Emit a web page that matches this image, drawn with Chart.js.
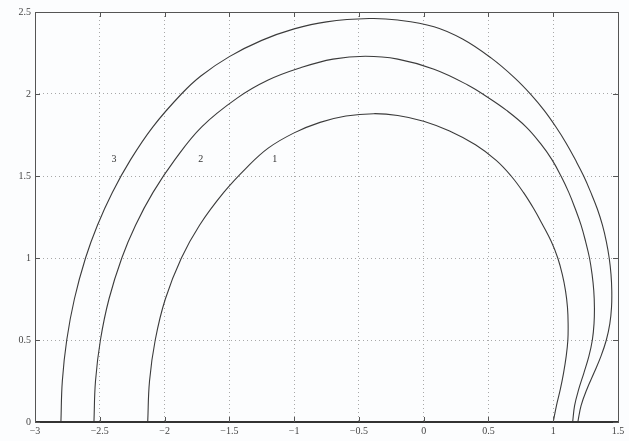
<!DOCTYPE html>
<html>
<head>
<meta charset="utf-8">
<script src="https://cdn.jsdelivr.net/npm/chart.js@4.4.1/dist/chart.umd.min.js"></script>
<style>
  html, body { margin: 0; padding: 0; background: #fcfdfe; }
  canvas { display: block; }
</style>
</head>
<body>
<canvas id="c" width="629" height="441"></canvas>
<script>
// Curve 1 (inner)
const curve1X = [-2.130, -2.116, -2.072, -1.994, -1.870, -1.730, -1.543, -1.368, -1.2, -1.0, -0.8, -0.6, -0.385, -0.2, 0.0, 0.2, 0.4, 0.56, 0.675, 0.77, 0.85, 0.92, 0.985, 1.035, 1.07, 1.095, 1.11, 1.115, 1.113, 1.10, 1.08, 1.055, 1.025, 1.0];
const curve1Y = [0, 0.25, 0.5, 0.75, 1.0, 1.2, 1.4, 1.55, 1.67, 1.763, 1.827, 1.866, 1.88, 1.869, 1.834, 1.774, 1.69, 1.595, 1.5, 1.4, 1.3, 1.2, 1.1, 1.0, 0.9, 0.8, 0.7, 0.6, 0.5, 0.4, 0.3, 0.2, 0.1, 0];
// Curve 2 (middle)
const curve2X = [-2.545, -2.533, -2.495, -2.429, -2.330, -2.224, -2.089, -1.92, -1.713, -1.44, -1.2, -0.95, -0.7, -0.45, -0.2, 0.08, 0.34, 0.50, 0.64, 0.79, 0.90, 0.99, 1.06, 1.12, 1.17, 1.215, 1.25, 1.28, 1.30, 1.313, 1.318, 1.315, 1.302, 1.275, 1.237, 1.197, 1.165, 1.15];
const curve2Y = [0, 0.25, 0.5, 0.75, 1.0, 1.2, 1.4, 1.6, 1.8, 1.975, 2.085, 2.16, 2.2125, 2.23, 2.2125, 2.151, 2.055, 1.977, 1.9, 1.8, 1.7, 1.6, 1.5, 1.4, 1.3, 1.2, 1.1, 1.0, 0.9, 0.8, 0.7, 0.6, 0.5, 0.4, 0.3, 0.2, 0.1, 0];
// Curve 3 (outer)
const curve3X = [-2.80, -2.789, -2.755, -2.696, -2.61, -2.518, -2.403, -2.262, -2.09, -1.87, -1.72, -1.50, -1.25, -1.0, -0.75, -0.42, -0.2, 0.08, 0.30, 0.52, 0.70, 0.83, 0.93, 1.02, 1.10, 1.17, 1.235, 1.29, 1.34, 1.38, 1.41, 1.432, 1.446, 1.452, 1.45, 1.437, 1.41, 1.368, 1.315, 1.26, 1.215, 1.19];
const curve3Y = [0, 0.25, 0.5, 0.75, 1.0, 1.2, 1.4, 1.6, 1.8, 2.0, 2.11, 2.228, 2.327, 2.397, 2.44, 2.46, 2.451, 2.41, 2.335, 2.22, 2.10, 1.995, 1.9, 1.8, 1.7, 1.6, 1.5, 1.4, 1.3, 1.2, 1.1, 1.0, 0.9, 0.8, 0.7, 0.6, 0.5, 0.4, 0.3, 0.2, 0.1, 0];

const curveLabels = ['1', '2', '3'];
const labelX = [-1.15, -1.72, -2.39];
const labelY = [1.60, 1.60, 1.60];

const xTicks = [-3, -2.5, -2, -1.5, -1, -0.5, 0, 0.5, 1, 1.5];
const yTicks = [0, 0.5, 1, 1.5, 2, 2.5];

function pts(xs, ys) { return xs.map((x, i) => ({x: x, y: ys[i]})); }
function fmt(v) {
  const s = String(Math.abs(Math.round(v * 10) / 10));
  return v < 0 ? '\u2212' + s : s;
}

const lineColor = '#3b3b3b';
const fontSpec = {family: '"Liberation Serif", "DejaVu Serif", serif', size: 10};

const bgPlugin = {
  id: 'bg',
  beforeDraw(chart) {
    const ctx = chart.ctx;
    ctx.save();
    ctx.fillStyle = '#fcfdfe';
    ctx.fillRect(0, 0, chart.width, chart.height);
    ctx.restore();
  }
};

const framePlugin = {
  id: 'frame',
  afterDraw(chart) {
    const ctx = chart.ctx;
    const a = chart.chartArea;
    const xs = chart.scales.x, ys = chart.scales.y;
    ctx.save();
    ctx.strokeStyle = '#555';
    ctx.lineWidth = 1;
    ctx.strokeRect(a.left + 0.5, a.top + 0.5, a.right - a.left, a.bottom - a.top);
    ctx.strokeStyle = '#333';
    ctx.lineWidth = 2;
    ctx.beginPath();
    ctx.moveTo(a.left, a.bottom);
    ctx.lineTo(a.right, a.bottom);
    ctx.stroke();
    ctx.strokeStyle = '#555';
    ctx.lineWidth = 1;
    const tl = 5;
    ctx.beginPath();
    xTicks.forEach(v => {
      const px = Math.round(xs.getPixelForValue(v)) + 0.5;
      ctx.moveTo(px, a.bottom); ctx.lineTo(px, a.bottom - tl);
      ctx.moveTo(px, a.top); ctx.lineTo(px, a.top + tl);
    });
    yTicks.forEach(v => {
      const py = Math.round(ys.getPixelForValue(v)) + 0.5;
      ctx.moveTo(a.left, py); ctx.lineTo(a.left + tl, py);
      ctx.moveTo(a.right, py); ctx.lineTo(a.right - tl, py);
    });
    ctx.stroke();
    ctx.fillStyle = '#333';
    ctx.font = '10px "Liberation Serif", "DejaVu Serif", serif';
    ctx.textAlign = 'center';
    ctx.textBaseline = 'middle';
    curveLabels.forEach((t, i) => {
      ctx.fillText(t, xs.getPixelForValue(labelX[i]), ys.getPixelForValue(labelY[i]));
    });
    ctx.restore();
  }
};

const ds = (data) => ({
  data: data,
  showLine: true,
  borderColor: lineColor,
  borderWidth: 1.1,
  pointRadius: 0,
  tension: 0.4,
  fill: false
});

new Chart(document.getElementById('c'), {
  type: 'scatter',
  data: {
    datasets: [ds(pts(curve1X, curve1Y)), ds(pts(curve2X, curve2Y)), ds(pts(curve3X, curve3Y))]
  },
  options: {
    responsive: false,
    animation: false,
    layout: {padding: {top: 12, right: 11, left: 0, bottom: 0}},
    plugins: {legend: {display: false}, tooltip: {enabled: false}},
    scales: {
      x: {
        type: 'linear', min: -3, max: 1.5,
        afterBuildTicks(s) { s.ticks = xTicks.map(v => ({value: v})); },
        afterFit(s) { s.height = 19; },
        ticks: {callback: fmt, font: fontSpec, color: '#444', padding: 3, maxRotation: 0, autoSkip: false},
        grid: {color: '#a8a8a8', lineWidth: 1, drawTicks: false},
        border: {display: false, dash: [1, 3]}
      },
      y: {
        type: 'linear', min: 0, max: 2.5,
        afterBuildTicks(s) { s.ticks = yTicks.map(v => ({value: v})); },
        afterFit(s) { s.width = 35; },
        ticks: {callback: fmt, font: fontSpec, color: '#444', padding: 4, autoSkip: false},
        grid: {color: '#a8a8a8', lineWidth: 1, drawTicks: false},
        border: {display: false, dash: [1, 3]}
      }
    }
  },
  plugins: [bgPlugin, framePlugin]
});
</script>
</body>
</html>
